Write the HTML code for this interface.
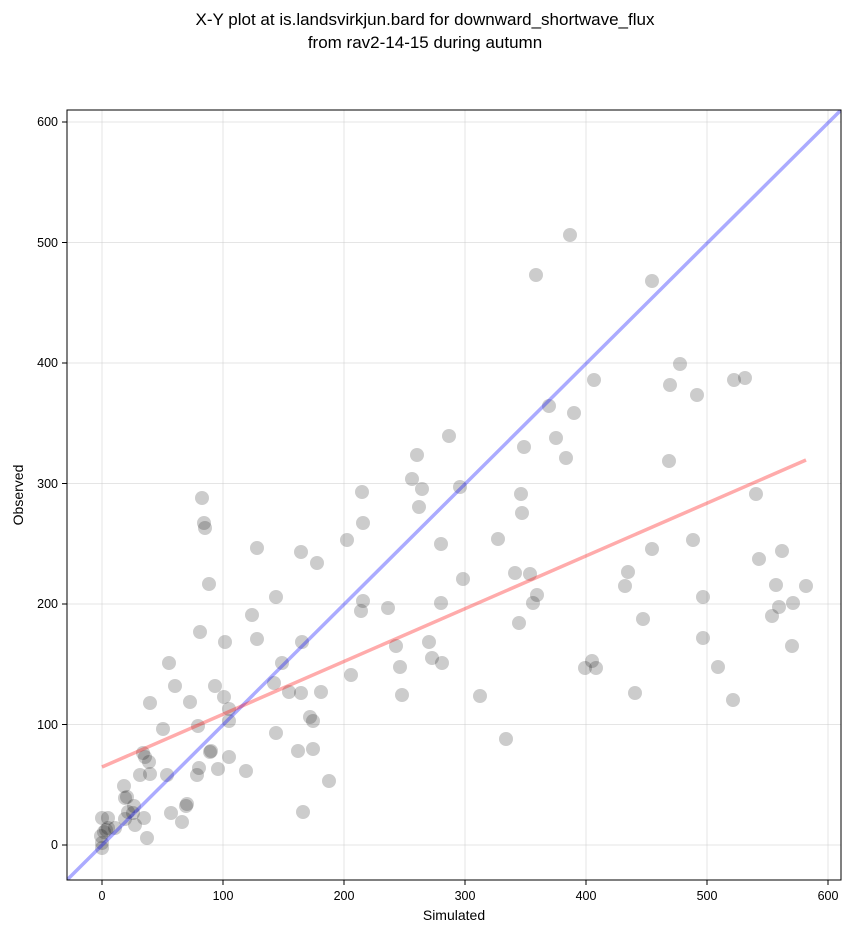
<!DOCTYPE html>
<html><head><meta charset="utf-8"><style>body{margin:0;background:#fff}svg{display:block;font-family:"Liberation Sans","DejaVu Sans",sans-serif}</style></head><body>
<svg width="851" height="934" xmlns="http://www.w3.org/2000/svg">
<rect width="851" height="934" fill="#fff"/>
<text x="425" y="25" font-size="17" text-anchor="middle">X-Y plot at is.landsvirkjun.bard for downward_shortwave_flux</text>
<text x="425" y="48" font-size="17" text-anchor="middle">from rav2-14-15 during autumn</text>
<defs><clipPath id="c"><rect x="67" y="110" width="774" height="770"/></clipPath></defs>
<g stroke="#ccc" stroke-opacity="0.5" stroke-width="1">
<line x1="102" y1="110" x2="102" y2="880"/><line x1="223" y1="110" x2="223" y2="880"/><line x1="344" y1="110" x2="344" y2="880"/><line x1="465" y1="110" x2="465" y2="880"/><line x1="586" y1="110" x2="586" y2="880"/><line x1="707" y1="110" x2="707" y2="880"/><line x1="828" y1="110" x2="828" y2="880"/>
<line x1="67" y1="845" x2="841" y2="845"/><line x1="67" y1="724.5" x2="841" y2="724.5"/><line x1="67" y1="604" x2="841" y2="604"/><line x1="67" y1="483.5" x2="841" y2="483.5"/><line x1="67" y1="363" x2="841" y2="363"/><line x1="67" y1="242.5" x2="841" y2="242.5"/><line x1="67" y1="122" x2="841" y2="122"/>
</g>
<g clip-path="url(#c)">
<g fill="#000" fill-opacity="0.2">
<circle cx="102" cy="848" r="7"/><circle cx="102" cy="843" r="7"/><circle cx="101" cy="836" r="7"/><circle cx="104" cy="832" r="7"/><circle cx="102" cy="818" r="7"/><circle cx="106" cy="830" r="7"/><circle cx="108" cy="828" r="7"/><circle cx="108" cy="818" r="7"/><circle cx="115" cy="828" r="7"/><circle cx="124" cy="786" r="7"/><circle cx="125" cy="798" r="7"/><circle cx="127" cy="797" r="7"/><circle cx="125" cy="819" r="7"/><circle cx="128" cy="812" r="7"/><circle cx="133" cy="813" r="7"/><circle cx="134" cy="806" r="7"/><circle cx="135" cy="825" r="7"/><circle cx="140" cy="775" r="7"/><circle cx="143" cy="753" r="7"/><circle cx="145" cy="757" r="7"/><circle cx="144" cy="818" r="7"/><circle cx="147" cy="838" r="7"/><circle cx="149" cy="762" r="7"/><circle cx="150" cy="703" r="7"/><circle cx="150" cy="774" r="7"/><circle cx="163" cy="729" r="7"/><circle cx="167" cy="775" r="7"/><circle cx="169" cy="663" r="7"/><circle cx="171" cy="813" r="7"/><circle cx="175" cy="686" r="7"/><circle cx="182" cy="822" r="7"/><circle cx="186" cy="806" r="7"/><circle cx="187" cy="804" r="7"/><circle cx="190" cy="702" r="7"/><circle cx="197" cy="775" r="7"/><circle cx="198" cy="726" r="7"/><circle cx="199" cy="768" r="7"/><circle cx="200" cy="632" r="7"/><circle cx="202" cy="498" r="7"/><circle cx="204" cy="523" r="7"/><circle cx="205" cy="528" r="7"/><circle cx="209" cy="584" r="7"/><circle cx="210" cy="752" r="7"/><circle cx="211" cy="751" r="7"/><circle cx="215" cy="686" r="7"/><circle cx="218" cy="769" r="7"/><circle cx="224" cy="697" r="7"/><circle cx="225" cy="642" r="7"/><circle cx="229" cy="709" r="7"/><circle cx="229" cy="757" r="7"/><circle cx="229" cy="721" r="7"/><circle cx="246" cy="771" r="7"/><circle cx="252" cy="615" r="7"/><circle cx="257" cy="548" r="7"/><circle cx="257" cy="639" r="7"/><circle cx="274" cy="683" r="7"/><circle cx="276" cy="733" r="7"/><circle cx="276" cy="597" r="7"/><circle cx="282" cy="663" r="7"/><circle cx="289" cy="692" r="7"/><circle cx="298" cy="751" r="7"/><circle cx="301" cy="693" r="7"/><circle cx="301" cy="552" r="7"/><circle cx="302" cy="642" r="7"/><circle cx="303" cy="812" r="7"/><circle cx="310" cy="717" r="7"/><circle cx="313" cy="721" r="7"/><circle cx="313" cy="749" r="7"/><circle cx="317" cy="563" r="7"/><circle cx="321" cy="692" r="7"/><circle cx="329" cy="781" r="7"/><circle cx="347" cy="540" r="7"/><circle cx="351" cy="675" r="7"/><circle cx="361" cy="611" r="7"/><circle cx="362" cy="492" r="7"/><circle cx="363" cy="523" r="7"/><circle cx="363" cy="601" r="7"/><circle cx="388" cy="608" r="7"/><circle cx="396" cy="646" r="7"/><circle cx="400" cy="667" r="7"/><circle cx="402" cy="695" r="7"/><circle cx="412" cy="479" r="7"/><circle cx="417" cy="455" r="7"/><circle cx="419" cy="507" r="7"/><circle cx="422" cy="489" r="7"/><circle cx="429" cy="642" r="7"/><circle cx="432" cy="658" r="7"/><circle cx="441" cy="544" r="7"/><circle cx="441" cy="603" r="7"/><circle cx="442" cy="663" r="7"/><circle cx="449" cy="436" r="7"/><circle cx="460" cy="487" r="7"/><circle cx="463" cy="579" r="7"/><circle cx="480" cy="696" r="7"/><circle cx="498" cy="539" r="7"/><circle cx="506" cy="739" r="7"/><circle cx="515" cy="573" r="7"/><circle cx="519" cy="623" r="7"/><circle cx="521" cy="494" r="7"/><circle cx="522" cy="513" r="7"/><circle cx="524" cy="447" r="7"/><circle cx="530" cy="574" r="7"/><circle cx="533" cy="603" r="7"/><circle cx="536" cy="275" r="7"/><circle cx="537" cy="595" r="7"/><circle cx="549" cy="406" r="7"/><circle cx="556" cy="438" r="7"/><circle cx="566" cy="458" r="7"/><circle cx="570" cy="235" r="7"/><circle cx="574" cy="413" r="7"/><circle cx="585" cy="668" r="7"/><circle cx="592" cy="661" r="7"/><circle cx="594" cy="380" r="7"/><circle cx="596" cy="668" r="7"/><circle cx="625" cy="586" r="7"/><circle cx="628" cy="572" r="7"/><circle cx="635" cy="693" r="7"/><circle cx="643" cy="619" r="7"/><circle cx="652" cy="281" r="7"/><circle cx="652" cy="549" r="7"/><circle cx="669" cy="461" r="7"/><circle cx="670" cy="385" r="7"/><circle cx="680" cy="364" r="7"/><circle cx="693" cy="540" r="7"/><circle cx="697" cy="395" r="7"/><circle cx="703" cy="597" r="7"/><circle cx="703" cy="638" r="7"/><circle cx="718" cy="667" r="7"/><circle cx="733" cy="700" r="7"/><circle cx="734" cy="380" r="7"/><circle cx="745" cy="378" r="7"/><circle cx="756" cy="494" r="7"/><circle cx="759" cy="559" r="7"/><circle cx="772" cy="616" r="7"/><circle cx="776" cy="585" r="7"/><circle cx="779" cy="607" r="7"/><circle cx="782" cy="551" r="7"/><circle cx="792" cy="646" r="7"/><circle cx="793" cy="603" r="7"/><circle cx="806" cy="586" r="7"/>
</g>
<line x1="67" y1="880" x2="841" y2="110" stroke="#00f" stroke-opacity="0.33" stroke-width="3.5"/>
<line x1="102" y1="767" x2="806" y2="460" stroke="#f00" stroke-opacity="0.33" stroke-width="3.5"/>
</g>
<rect x="67" y="110" width="774" height="770" fill="none" stroke="#000" stroke-width="1"/>
<g stroke="#000"><line x1="102" y1="880" x2="102" y2="885"/><line x1="223" y1="880" x2="223" y2="885"/><line x1="344" y1="880" x2="344" y2="885"/><line x1="465" y1="880" x2="465" y2="885"/><line x1="586" y1="880" x2="586" y2="885"/><line x1="707" y1="880" x2="707" y2="885"/><line x1="828" y1="880" x2="828" y2="885"/>
<line x1="62" y1="845" x2="67" y2="845"/><line x1="62" y1="724.5" x2="67" y2="724.5"/><line x1="62" y1="604" x2="67" y2="604"/><line x1="62" y1="483.5" x2="67" y2="483.5"/><line x1="62" y1="363" x2="67" y2="363"/><line x1="62" y1="242.5" x2="67" y2="242.5"/><line x1="62" y1="122" x2="67" y2="122"/></g>
<g font-size="12.5" text-anchor="middle"><text x="102" y="900">0</text><text x="223" y="900">100</text><text x="344" y="900">200</text><text x="465" y="900">300</text><text x="586" y="900">400</text><text x="707" y="900">500</text><text x="828" y="900">600</text></g>
<g font-size="12.5" text-anchor="end"><text x="58" y="849">0</text><text x="58" y="729">100</text><text x="58" y="608">200</text><text x="58" y="488">300</text><text x="58" y="367">400</text><text x="58" y="247">500</text><text x="58" y="126">600</text></g>
<text x="454" y="920" font-size="14" text-anchor="middle">Simulated</text>
<text x="23" y="495" font-size="14" text-anchor="middle" transform="rotate(-90 23 495)">Observed</text>
</svg>
</body></html>
